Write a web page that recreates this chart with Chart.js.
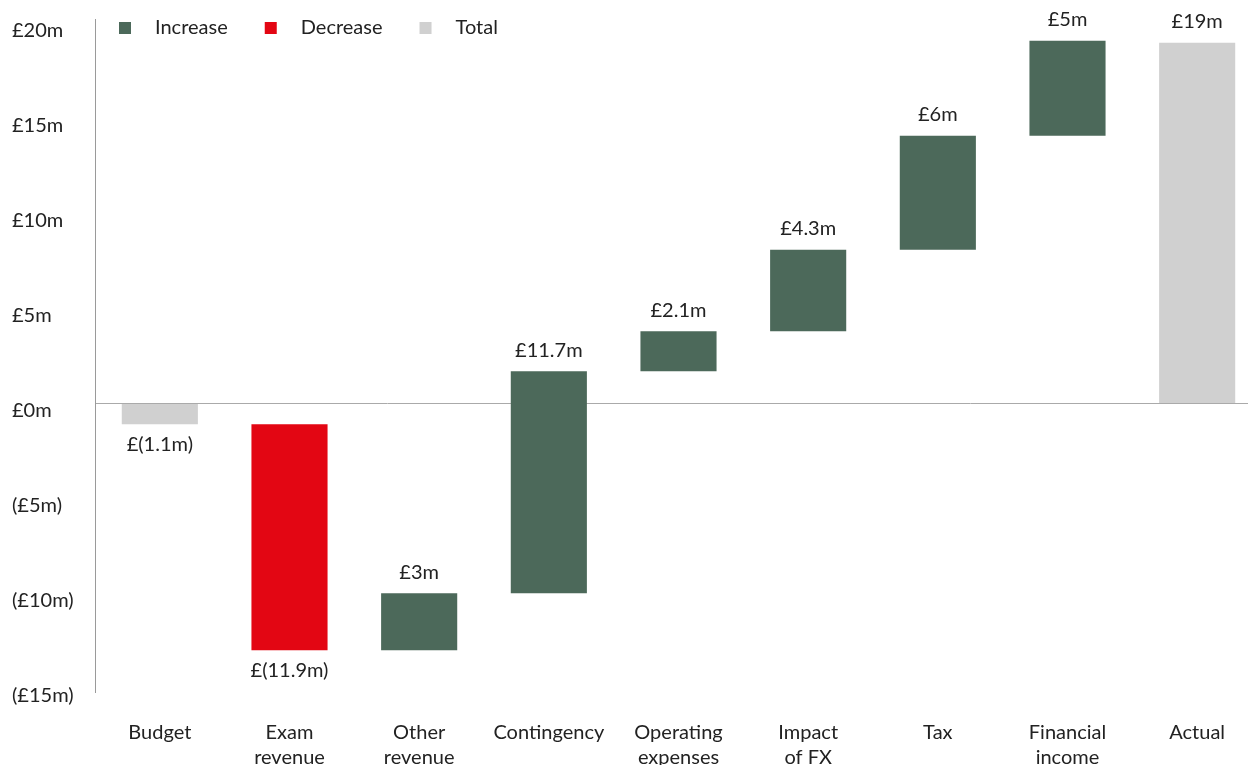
<!DOCTYPE html>
<html>
<head>
<meta charset="utf-8">
<script src="https://cdn.jsdelivr.net/npm/chart.js@4.4.1/dist/chart.umd.min.js"></script>
<style>
  html, body { margin: 0; padding: 0; overflow: hidden; background: #fff; }
  .wrap { width: 1262px; height: 765px; }
</style>
</head>
<body>
<div class="wrap"><canvas id="chart"></canvas></div>
<script>
const categories = [
  ['Budget'], ['Exam', 'revenue'], ['Other', 'revenue'], ['Contingency'],
  ['Operating', 'expenses'], ['Impact', 'of FX'], ['Tax'], ['Financial', 'income'], ['Actual']
]
const changes = [-1.1, -11.9, 3, 11.7, 2.1, 4.3, 6, 5, 19]
const kinds = ['total', 'decrease', 'increase', 'increase', 'increase', 'increase', 'increase', 'increase', 'total']
const yTicks = [-15, -10, -5, 0, 5, 10, 15, 20]

const colors = { increase: '#4c695a', decrease: '#e30613', total: '#d0d0d0' }
const legendItems = [['Increase', 'increase'], ['Decrease', 'decrease'], ['Total', 'total']]
const FONT = 'Lato'
const TEXT = '#222'

// floating bars: totals start at zero, steps start where the last one ended
let running = 0
const floating = changes.map((v, i) => {
  if (kinds[i] === 'total') {
    running = v
    return [0, v]
  }
  const bar = [running, running + v]
  running += v
  return bar
})

const money = v => v < 0 ? '£(' + Math.abs(v) + 'm)' : '£' + v + 'm'

const barLabels = {
  id: 'barLabels',
  afterDatasetsDraw(chart) {
    const ctx = chart.ctx
    const meta = chart.getDatasetMeta(0)
    ctx.save()
    ctx.font = '20px ' + FONT
    ctx.fillStyle = TEXT
    ctx.textAlign = 'center'
    ctx.textBaseline = 'middle'
    meta.data.forEach((el, i) => {
      const top = Math.min(el.y, el.base)
      const bottom = Math.max(el.y, el.base)
      const y = changes[i] < 0 ? bottom + 20 : top - 21
      ctx.fillText(money(changes[i]), el.x, y)
    })
    ctx.restore()
  }
}

const topLegend = {
  id: 'topLegend',
  afterDraw(chart) {
    const ctx = chart.ctx
    let x = chart.chartArea.left + 24
    const y = 28
    ctx.save()
    ctx.font = '20px ' + FONT
    ctx.textBaseline = 'middle'
    legendItems.forEach(([text, kind]) => {
      ctx.fillStyle = colors[kind]
      ctx.fillRect(x, y - 6, 12, 12)
      ctx.fillStyle = TEXT
      ctx.fillText(text, x + 36, y)
      x += 36 + ctx.measureText(text).width + 37
    })
    ctx.restore()
  }
}

new Chart(document.getElementById('chart'), {
  type: 'bar',
  data: {
    labels: categories,
    datasets: [{
      data: floating,
      backgroundColor: kinds.map(k => colors[k]),
      borderWidth: 0,
      barPercentage: 0.587,
      categoryPercentage: 1
    }]
  },
  options: {
    responsive: true,
    maintainAspectRatio: false,
    animation: false,
    layout: { padding: { left: 12, top: 19, right: 0, bottom: 0 } },
    plugins: {
      legend: { display: false },
      tooltip: { enabled: false }
    },
    scales: {
      x: {
        grid: { display: false },
        border: { display: false },
        ticks: {
          color: TEXT,
          font: { family: FONT, size: 20, lineHeight: 1.25 },
          padding: 20,
          maxRotation: 0,
          autoSkip: false
        },
        afterFit: s => { s.height = 73 }
      },
      y: {
        // axis line runs a little past the end ticks
        min: -15.2,
        max: 20.25,
        afterBuildTicks: s => { s.ticks = yTicks.map(v => ({ value: v })) },
        border: { color: '#9a9a9a', width: 1 },
        grid: {
          drawTicks: false,
          color: c => c.tick && c.tick.value === 0 ? '#aaaaaa' : 'rgba(0,0,0,0)',
          lineWidth: 1
        },
        ticks: {
          color: TEXT,
          font: { family: FONT, size: 20 },
          crossAlign: 'far',
          labelOffset: 7,
          callback: v => v < 0 ? '(£' + Math.abs(v) + 'm)' : '£' + v + 'm'
        },
        afterFit: s => { s.width = 83 }
      }
    }
  },
  plugins: [barLabels, topLegend]
})
</script>
</body>
</html>
